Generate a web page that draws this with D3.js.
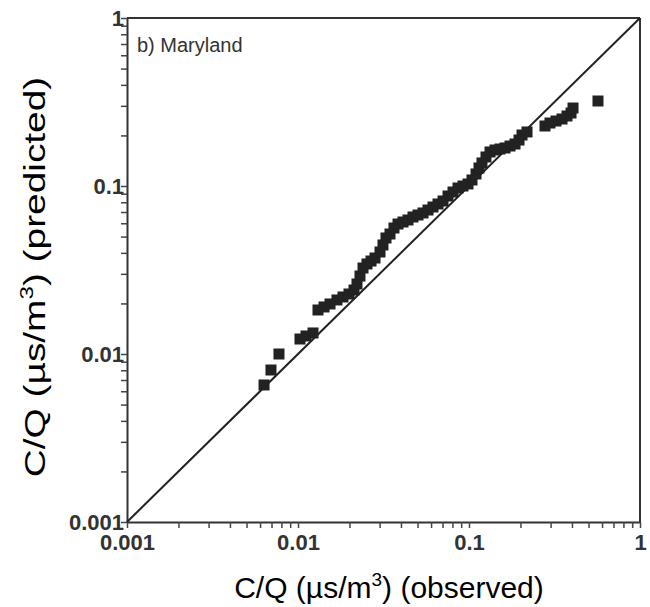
<!DOCTYPE html>
<html><head><meta charset="utf-8">
<script src="https://cdn.jsdelivr.net/npm/d3@7"></script>
<style>body{margin:0;background:#fff}svg{display:block}</style>
</head><body>
<script>
const observed = [0.00633,0.00695,0.00774,0.01027,0.01114,0.01224,0.01309,0.0142,0.01539,0.0169,0.01833,0.01987,0.02126,0.02213,0.02304,0.024,0.02532,0.02673,0.02821,0.03017,0.0314,0.0327,0.03451,0.03642,0.03844,0.04111,0.04398,0.04704,0.05032,0.05383,0.05757,0.06158,0.06588,0.07047,0.07538,0.08062,0.08624,0.09225,0.09867,0.1041,0.1099,0.1144,0.1191,0.1257,0.1327,0.1419,0.1518,0.1624,0.1737,0.1858,0.1961,0.2042,0.2184,0.2782,0.2976,0.3227,0.3499,0.3742,0.395,0.4058,0.568];
const predicted = [0.00654,0.00803,0.0100,0.01228,0.0128,0.01334,0.01828,0.01905,0.01985,0.02097,0.02185,0.02276,0.02404,0.0261,0.02912,0.0325,0.03435,0.03577,0.03727,0.04047,0.04456,0.04903,0.05179,0.05623,0.05939,0.06105,0.06276,0.06539,0.06721,0.06908,0.07196,0.07499,0.07815,0.08142,0.08719,0.09211,0.0973,0.1,0.1028,0.1086,0.1179,0.128,0.1371,0.1488,0.1594,0.1638,0.166,0.1684,0.173,0.1778,0.1878,0.2012,0.2097,0.2276,0.2371,0.2437,0.2505,0.261,0.272,0.2912,0.3206];
const majorTicks = [0.001,0.01,0.1,1];
const majorLabels = ["0.001","0.01","0.1","1"];
const panelTitle = "b) Maryland";

const W=650,H=607;
const L=127,R=640,T=18,B=522;
const svg=d3.select("body").append("svg").attr("width",W).attr("height",H);
const x=d3.scaleLog().domain([0.001,1]).range([L,R]);
const y=d3.scaleLog().domain([0.001,1]).range([B,T]);

const minor=[];
[0.001,0.01,0.1].forEach(d=>{for(let k=2;k<=9;k++)minor.push(d*k);});
const allTicks=majorTicks.concat(minor);
const fmt=d=>{const i=majorTicks.indexOf(d);return i>=0?majorLabels[i]:"";};

const tickFont="'Liberation Sans', Arial, sans-serif";
const xAxis=svg.append("g").attr("transform",`translate(0,${B})`)
  .call(d3.axisBottom(x).tickValues(allTicks).tickFormat(fmt).tickSize(6).tickSizeOuter(0));
const yAxis=svg.append("g").attr("transform",`translate(${L},0)`)
  .call(d3.axisLeft(y).tickValues(allTicks).tickFormat(fmt).tickSize(6).tickSizeOuter(0));
[xAxis,yAxis].forEach(g=>{
  g.attr("font-size",null).attr("font-family",null);
  g.select(".domain").attr("stroke","#333").attr("stroke-width",2);
  g.selectAll(".tick line").attr("stroke","#444").attr("stroke-width",1.5);
  g.selectAll(".tick text").style("font-family",tickFont).style("font-weight","bold")
   .style("font-size","22px").attr("fill","#333");
});
xAxis.selectAll(".tick text").attr("y",12).attr("dy","0.71em");
yAxis.selectAll(".tick text").attr("x",-3).attr("dy","0.32em");

// top and right border
svg.append("line").attr("x1",L).attr("x2",R).attr("y1",T).attr("y2",T).attr("stroke","#333").attr("stroke-width",2);
svg.append("line").attr("x1",R).attr("x2",R).attr("y1",T).attr("y2",B).attr("stroke","#333").attr("stroke-width",2);

// 1:1 line
svg.append("line").attr("x1",x(0.001)).attr("y1",y(0.001)).attr("x2",x(1)).attr("y2",y(1))
  .attr("stroke","#222").attr("stroke-width",2);

// points
const s=11;
svg.append("g").selectAll("rect").data(observed.map((d,i)=>[d,predicted[i]])).join("rect")
  .attr("x",d=>x(d[0])-s/2).attr("y",d=>y(d[1])-s/2).attr("width",s).attr("height",s)
  .attr("fill","#222");

svg.append("text").attr("x",137).attr("y",52).style("font-family",tickFont)
  .style("font-size","20px").attr("fill","#333").text(panelTitle);

const labFont="'Liberation Sans', Arial, sans-serif";
const xl=svg.append("text").attr("x",389).attr("y",598).attr("text-anchor","middle")
  .style("font-family",labFont).style("font-size","30px").attr("fill","#000");
xl.append("tspan").text("C/Q (µs/m");
xl.append("tspan").style("font-size","19px").attr("dy",-12).text("3");
xl.append("tspan").attr("dy",12).text(") (observed)");

const yl=svg.append("text").attr("transform","translate(45,277) rotate(-90) scale(1.34,1)").attr("text-anchor","middle")
  .style("font-family",labFont).style("font-size","29px").attr("fill","#000");
yl.append("tspan").text("C/Q (µs/m");
yl.append("tspan").style("font-size","18px").attr("dy",-12).text("3");
yl.append("tspan").attr("dy",12).text(") (predicted)");
</script>
</body></html>
